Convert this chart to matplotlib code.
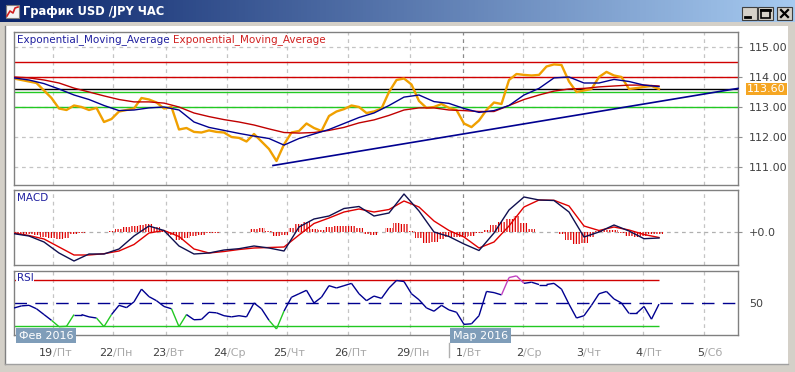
import numpy as np
import matplotlib
matplotlib.use('Agg')
import matplotlib.pyplot as plt
from matplotlib.colors import LinearSegmentedColormap
from matplotlib.collections import LineCollection
from matplotlib.patches import Rectangle
import matplotlib.ticker as mticker

plt.rcParams['font.family'] = ['DejaVu Sans']
plt.rcParams['hatch.linewidth'] = 0.9

# ---------------- data ----------------
title = 'График USD /JPY ЧАС'
day_hours = [15.6, 39.6, 60.8, 85.2, 109.2, 133.6, 158.4, 179.6, 203.6, 227.6, 251.6, 276.0]
day_nums = ['19', '22', '23', '24', '25', '26', '29', '1', '2', '3', '4', '5']
day_names = ['Пт', 'Пн', 'Вт', 'Ср', 'Чт', 'Пт', 'Пн', 'Вт', 'Ср', 'Чт', 'Пт', 'Сб']
month_labels = ['Фев 2016', 'Мар 2016']
month_hours = [0.4, 174.0]
month_start_day = 7          # index of "1/Вт"
x_max = 289.6

hours3 = list(range(0, 259, 3))
hours6 = list(range(0, 259, 6))

price = [113.95, 113.9, 113.85, 113.8, 113.55, 113.3, 112.95, 112.9, 113.05, 113.0,
         112.9, 112.97, 112.5, 112.6, 112.85, 112.9, 112.95, 113.3, 113.25, 113.15,
         112.95, 113.0, 112.25, 112.3, 112.17, 112.15, 112.22, 112.17, 112.15, 112.0,
         111.97, 111.85, 112.1, 111.85, 111.6, 111.2, 111.75, 112.15, 112.2, 112.45,
         112.3, 112.2, 112.7, 112.85, 112.93, 113.05, 113.0, 112.8, 112.85, 112.95,
         113.5, 113.9, 113.95, 113.75, 113.2, 112.97, 113.0, 113.1, 112.97, 112.9,
         112.45, 112.33, 112.55, 112.9, 113.15, 113.1, 113.9, 114.1, 114.07, 114.05,
         114.07, 114.35, 114.42, 114.4, 113.85, 113.5, 113.55, 113.6, 114.0, 114.17,
         114.05, 114.0, 113.6, 113.63, 113.67, 113.7, 113.6]
last_price = 113.60

ema_fast = [113.97, 113.9, 113.78, 113.6, 113.4, 113.25, 113.05, 112.88, 112.9, 112.97,
            113.0, 112.9, 112.5, 112.32, 112.22, 112.12, 112.03, 111.95, 111.73, 111.95,
            112.1, 112.25, 112.45, 112.65, 112.8, 113.05, 113.33, 113.4, 113.18, 113.12,
            112.95, 112.82, 112.88, 113.05, 113.4, 113.62, 113.97, 114.0, 113.8, 113.8,
            113.92, 113.85, 113.73, 113.68]
ema_slow = [114.0, 113.97, 113.9, 113.8, 113.63, 113.5, 113.37, 113.25, 113.17, 113.17,
            113.13, 113.0, 112.8, 112.68, 112.58, 112.5, 112.4, 112.27, 112.15, 112.13,
            112.15, 112.22, 112.32, 112.47, 112.57, 112.72, 112.9, 112.97, 112.97, 112.9,
            112.88, 112.85, 112.85, 113.05, 113.25, 113.4, 113.53, 113.6, 113.62, 113.67,
            113.7, 113.73, 113.73, 113.7]

red_levels = [114.5, 114.0]
black_levels = [113.6]
green_levels = [113.5, 113.0]
trend_x = [103.6, 289.6]
trend_y = [111.05, 113.62]

macd = [-0.017, -0.04, -0.10, -0.21, -0.29, -0.22, -0.22, -0.17, -0.04, 0.06,
        0.015, -0.14, -0.22, -0.21, -0.18, -0.167, -0.14, -0.16, -0.19, 0.05,
        0.13, 0.16, 0.235, 0.255, 0.16, 0.19, 0.38, 0.21, 0.0, -0.045,
        -0.12, -0.185, -0.01, 0.22, 0.35, 0.32, 0.315, 0.20, -0.05, 0.0,
        0.07, 0.01, -0.067, -0.06]
signal = [-0.01, -0.035, -0.07, -0.15, -0.23, -0.23, -0.217, -0.19, -0.125, -0.01,
          0.015, -0.045, -0.17, -0.21, -0.195, -0.175, -0.16, -0.155, -0.15, -0.03,
          0.085, 0.14, 0.20, 0.23, 0.20, 0.225, 0.31, 0.25, 0.11, 0.015,
          -0.05, -0.16, -0.10, 0.06, 0.25, 0.32, 0.317, 0.26, 0.06, 0.015,
          0.05, 0.02, -0.025, -0.055]
hist = [-0.015, -0.017, -0.02, -0.03, -0.045, -0.055, -0.067, -0.06, -0.015, -0.005,
        0.005, 0.005, 0.005, 0.01, 0.035, 0.05, 0.06, 0.07, 0.08, 0.05,
        0.01, -0.03, -0.08, -0.06, -0.04, -0.025, -0.005, -0.005, 0.005, 0.003,
        -0.003, 0.005, 0.03, 0.04, 0.01, -0.04, -0.03, 0.04, 0.08, 0.10,
        0.03, 0.02, 0.05, 0.06, 0.06, 0.06, 0.04, -0.02, -0.033, 0.0,
        0.04, 0.09, 0.08, 0.01, -0.06, -0.11, -0.10, -0.07, -0.05, -0.05,
        -0.05, -0.04, -0.01, 0.02, 0.07, 0.10, 0.13, 0.16, 0.09, 0.03,
        0.005, 0.003, 0.005, -0.02, -0.08, -0.12, -0.11, -0.05, 0.01, 0.02,
        0.02, -0.01, -0.04, -0.05, -0.04, -0.02, -0.015]

rsi = [45.7, 47.5, 48, 45, 40, 35, 29.5, 29.8, 40, 40,
       38, 37, 29.5, 40, 48, 46, 51, 62, 55.5, 52,
       47, 45, 29.5, 40, 35.5, 35.8, 42, 41.5, 39, 38,
       39, 38, 50, 45, 35, 27.5, 43, 55, 58, 61,
       50, 55, 65, 63, 65, 67, 58, 52, 56, 54,
       63, 69.5, 68.6, 58, 52.8, 45.7, 42.9, 48, 44, 42,
       31.5, 32, 39, 60, 59, 57, 72, 73.5, 67, 68,
       66, 66, 67, 62, 49, 37, 39, 48, 58, 60,
       53.5, 50, 41, 41, 47, 36, 49]
rsi_hi, rsi_mid, rsi_lo = 70, 50, 30

# ---------------- styling ----------------
NAVY = '#000090'
RED = '#d00000'
ORANGE = '#f0a000'
GREEN = '#22c822'
GRID = '#c4c4c4'
TXT = '#404040'

W, H = 795, 372
fig = plt.figure(figsize=(W / 100, H / 100), dpi=100, facecolor='white')

bg = fig.add_axes([0, 0, 1, 1], zorder=0)
bg.axis('off')
# title bar gradient
cmap = LinearSegmentedColormap.from_list('tb', ['#0a246a', '#a6caf0'])
bg.imshow(np.linspace(0, 1, 256)[None, :], extent=(0, W, 22, 0), aspect='auto', cmap=cmap)
bg.set_xlim(0, W)
bg.set_ylim(H, 0)
# window frame
for (x0, y0, w, h) in [(0, 22, W, 4), (0, 22, 5, H - 22), (788, 22, 7, H - 22), (0, 364, W, 8)]:
    bg.add_patch(Rectangle((x0, y0), w, h, fc='#d4d0c8', ec='none'))
bg.plot([5, 5], [26, 364], color='#808080', lw=1)
bg.plot([5, 788], [364, 364], color='#a0a0a0', lw=1)
# icon
bg.add_patch(Rectangle((6, 5), 13, 13, fc='#f4f4f4', ec='#808080', lw=0.8))
bg.plot([7, 10, 13, 15, 18], [16, 11, 13, 8, 7], color='#d02020', lw=1.2)
bg.text(23, 11.5, title, color='white', fontweight='bold', fontsize=8.3, va='center', ha='left')
# buttons
for bx in [742, 758, 777]:
    bg.add_patch(Rectangle((bx, 7), 15, 13, fc='#d4d0c8', ec='#404040', lw=0.8))
bg.plot([745, 750], [17, 17], color='black', lw=2)
bg.add_patch(Rectangle((761, 9.5), 9, 8, fc='none', ec='black', lw=1.2))
bg.plot([761, 770], [10, 10], color='black', lw=2)
bg.plot([781, 788], [10, 17], color='black', lw=1.6)
bg.plot([781, 788], [17, 10], color='black', lw=1.6)


def px_axes(l, t, r, b):
    return fig.add_axes([l / W, 1 - b / H, (r - l) / W, (b - t) / H], zorder=2)


ax = px_axes(14, 32, 738, 185)
axm = px_axes(14, 190, 738, 265)
axr = px_axes(14, 271, 738, 335)

for a in (ax, axm, axr):
    a.set_facecolor('white')
    a.set_xlim(0, x_max)
    for s in a.spines.values():
        s.set_color('#808080')
        s.set_linewidth(1)
    a.yaxis.tick_right()
    a.tick_params(axis='y', length=3, color='#909090', labelsize=8, labelcolor=TXT, pad=5)
    a.set_xticks([])
    for i, dh in enumerate(day_hours):
        c = '#8a8a8a' if i == month_start_day else GRID
        a.axvline(dh, color=c, lw=0.9, ls=(0, (3, 3)), zorder=0.5)

# ---------- main panel ----------
ax.set_ylim(110.4, 115.5)
ax.set_yticks([111, 112, 113, 114, 115])
ax.yaxis.set_major_formatter(mticker.FormatStrFormatter('%.2f'))
for yv in [111, 112, 113, 114, 115]:
    ax.axhline(yv, color=GRID, lw=0.9, ls=(0, (3, 3)), zorder=0.5)
for yv in red_levels:
    ax.axhline(yv, color=RED, lw=1, zorder=1)
for yv in black_levels:
    ax.axhline(yv, color='black', lw=1, zorder=1)
for yv in green_levels:
    ax.axhline(yv, color=GREEN, lw=1, zorder=1)
ax.plot(hours3, price, color=ORANGE, lw=1.7, zorder=2)
ax.plot(hours6, ema_slow, color='#c00000', lw=1, zorder=3)
ax.plot(hours6, ema_fast, color=NAVY, lw=1, zorder=3)
ax.plot(trend_x, trend_y, color=NAVY, lw=1.2, zorder=3, clip_on=False)

t1 = ax.text(0.004, 0.948, 'Exponential_Moving_Average', transform=ax.transAxes,
             color='#2020a0', fontsize=7.5, va='center', ha='left', zorder=5,
             bbox=dict(fc='white', ec='none', pad=0.5))
ax.annotate('Exponential_Moving_Average', xy=(1, 0), xycoords=t1, xytext=(3, 0),
            textcoords='offset pixels', color='#d02020', fontsize=7.5, va='bottom',
            ha='left', zorder=5, bbox=dict(fc='white', ec='none', pad=0.5))

ax.annotate('%.2f' % last_price, xy=(1, last_price), xycoords=ax.get_yaxis_transform(),
            xytext=(9, 0), textcoords='offset pixels', color='white', fontsize=8,
            va='center', ha='left', annotation_clip=False,
            bbox=dict(boxstyle='square,pad=0.12', fc='#f5a623', ec='none'))

# ---------- MACD panel ----------
axm.set_ylim(-0.33, 0.42)
axm.set_yticks([0])
axm.set_yticklabels(['+0.0'])
axm.axhline(0, color='#b0b0b0', lw=0.9, ls=(0, (3, 3)), zorder=0.6)
axm.bar(hours3, hist, width=3, color='none', edgecolor='#e00000', linewidth=0,
        hatch='||||||', zorder=1)
axm.plot(hours6, signal, color='#e00000', lw=1, zorder=3)
axm.plot(hours6, macd, color='#101050', lw=1, zorder=3)
axm.text(0.004, 0.89, 'MACD', transform=axm.transAxes, color='#2020a0', fontsize=7.5,
         va='center', ha='left', zorder=5, bbox=dict(fc='white', ec='none', pad=0.5))

# ---------- RSI panel ----------
axr.set_ylim(22.3, 77.7)
axr.set_yticks([rsi_mid])
axr.set_yticklabels(['50'])
axr.tick_params(axis='y', length=0, pad=8)
axr.axhline(rsi_mid, color=NAVY, lw=1, ls=(0, (9, 6)), zorder=1)
axr.hlines([rsi_hi], hours3[0], hours3[-1], color=RED, lw=1, zorder=1)
axr.hlines([rsi_lo], hours3[0], hours3[-1], color=GREEN, lw=1, zorder=1)
pts = np.column_stack([hours3, rsi])
segs = np.stack([pts[:-1], pts[1:]], axis=1)
cols = []
for a0, b0 in zip(rsi[:-1], rsi[1:]):
    if a0 < rsi_lo or b0 < rsi_lo:
        cols.append(GREEN)
    elif a0 > rsi_hi or b0 > rsi_hi:
        cols.append('#c040c0')
    else:
        cols.append(NAVY)
axr.add_collection(LineCollection(segs, colors=cols, linewidths=1, zorder=3))
axr.text(0.004, 0.89, 'RSI', transform=axr.transAxes, color='#2020a0', fontsize=7.5,
         va='center', ha='left', zorder=5, bbox=dict(fc='white', ec='none', pad=0.5))

# x labels (two-tone)
xt = axr.get_xaxis_transform()
for dh, n, d in zip(day_hours, day_nums, day_names):
    axr.text(dh, -0.285, n, transform=xt, ha='right', va='center', fontsize=8,
             color=TXT, clip_on=False)
    axr.text(dh, -0.285, '/' + d, transform=xt, ha='left', va='center', fontsize=8,
             color='#a8a8a8', clip_on=False)

# month markers
axr.plot([month_hours[1], month_hours[1]], [-0.13, -0.34], transform=xt,
         color='#b0b0b0', lw=1, clip_on=False)
for mh, ml in zip(month_hours, month_labels):
    axr.annotate(ml, xy=(mh, -0.008), xycoords=xt, xytext=(4, 0),
                 textcoords='offset pixels', ha='left', va='center', fontsize=8,
                 color='white', annotation_clip=False, zorder=10,
                 bbox=dict(boxstyle='square,pad=0.25', fc='#7f9db9', ec='none'))

fig.savefig('out.png', dpi=100, facecolor='white')
